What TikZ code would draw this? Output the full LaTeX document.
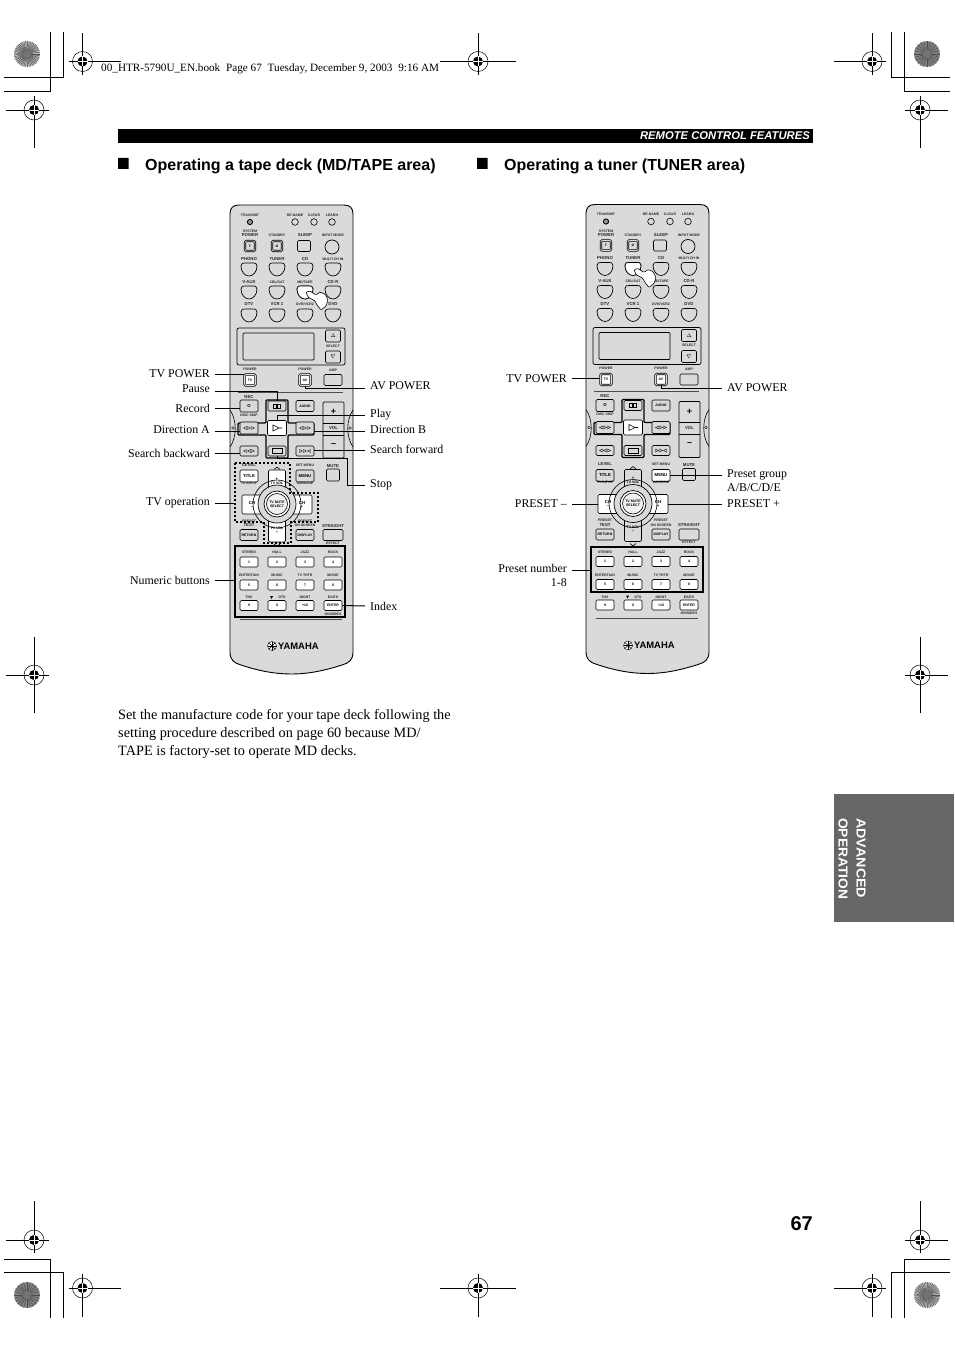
\documentclass[tikz,border=0pt]{standalone}
\usepackage{fontspec}
\setmainfont{Liberation Serif}
\setsansfont{Liberation Sans}
\usetikzlibrary{calc}
\definecolor{gris}{HTML}{DADADA}
\definecolor{onglet}{HTML}{666666}
\newcommand{\petit}{\sffamily\bfseries\fontsize{3.5}{4}\selectfont}
\newcommand{\moyen}{\sffamily\bfseries\fontsize{4.3}{5}\selectfont}
\tikzset{
    btn/.style={draw,line width=0.6pt,rounded corners=1.2pt,fill=gris,inner sep=0pt,font=\petit},
    btnw/.style={btn,fill=white},
    btntv/.style={btn,fill=white,double=gris,double distance=0.9pt,minimum width=11pt,minimum height=11pt},
    petitxt/.style={inner sep=0pt,font=\petit,text=black!85},
    moytxt/.style={inner sep=0pt,font=\moyen,text=black!85},
    legd/.style={anchor=west,inner ysep=0pt,inner xsep=5pt,font=\fontsize{11.9}{14}\selectfont},
    legg/.style={anchor=east,inner ysep=0pt,inner xsep=5pt,font=\fontsize{11.9}{14}\selectfont,align=right},
    lien/.style={line width=1pt},
    titre/.style={anchor=west,inner sep=0pt,font=\sffamily\bfseries\fontsize{16}{18}\selectfont},
    trait/.style={line width=0.7pt}
}
% Bouton arrondi en bas
\newcommand{\pastille}[3]{%
    \draw[line width=0.7pt,fill=#3,shift={(#1,#2)}] (-8,-3) .. controls (-8,-6) and (-6,-6) .. (-4,-6) -- (4,-6)
        .. controls (6,-6) and (8,-6) .. (8,-3) .. controls (8,3) and (4,7) .. (0,7)
        .. controls (-4,7) and (-8,3) .. (-8,-3) -- cycle;}
% Repere de coupe
\newcommand{\repere}[6]{%
    \draw[trait] (#1-#3,#2) -- (#1+#4,#2);
    \draw[trait] (#1,#2-#5) -- (#1,#2+#6);
    \draw[line width=0.5pt] (#1,#2) circle[radius=10];
    \fill (#1,#2) circle[radius=5];
    \draw[white,line width=0.5pt] (#1-5,#2) -- (#1+5,#2) (#1,#2-5) -- (#1,#2+5);}
% Mire ronde
\newcommand{\soleil}[4]{%
    \fill[#4] (#1,#2) circle[radius=13];
    \foreach \a in {0,#3,...,359} {
        \draw[line width=0.45pt,black!70] (#1,#2) -- ++(\a:13);}
    \fill[black!55] (#1,#2) circle[radius=4];}
% La main sur la touche
\newcommand{\mainpos}[2]{%
    \draw[line width=0.6pt,fill=white,rounded corners=1pt,shift={(#1,#2)}] (-12,-8) -- (-8,-9) -- (-2,-5) -- (2,-8) -- (7,-6)
        -- (10,0) -- (8,6) -- (3,10) -- (-1,5) -- (-3,1) -- (-10,-3) -- cycle;}
% La telecommande
\newcommand{\telecommande}{%
    \draw[line width=0.9pt,fill=gris] (230,214) .. controls (230,208) and (233,205) .. (239,205) -- (344,205)
        .. controls (350,205) and (353,208) .. (353,214) -- (353,652)
        .. controls (353,660) and (349,663) .. (342,665) .. controls (320,672) and (305,674) .. (291.5,674)
        .. controls (278,674) and (262,672) .. (241,665) .. controls (234,663) and (230,660) .. (230,652) -- cycle;
    % Arcs lateraux
    \draw[line width=0.6pt] (230,410) .. controls (237,420) and (237,437) .. (230,447);
    \draw[line width=0.6pt] (353,410) .. controls (346,420) and (346,437) .. (353,447);
    \draw[line width=0.4pt] (233,428) circle[radius=1.3] (350,428) circle[radius=1.3];
    % Voyants
    \draw[line width=0.9pt,fill=black!40] (250,222) circle[radius=2.6];
    \foreach \x in {295,314,332} {
        \draw[line width=0.6pt] (\x,222) circle[radius=3.3];}
    \draw[line width=0.7pt] (332,247) circle[radius=7];
    % Pastilles
    \foreach \y in {269,292,315} {
        \foreach \x in {249,277,305,333} {
            \pastille{\x}{\y}{gris}}}
    % Ecran
    \draw[line width=0.7pt,rounded corners=2pt] (237,328) rectangle (345,365);
    \draw[line width=0.7pt,rounded corners=1pt] (243,333) rectangle (314,360);
    % Croix centrale
    \draw[line width=1.2pt,rounded corners=1pt,fill=gris] (266,400) -- (288,400) -- (288,423) -- (314,423) -- (314,435) -- (288,435)
        -- (288,458) -- (266,458) -- (266,435) -- (238,435) -- (238,423) -- (266,423) -- cycle;
    % Volume
    \draw[line width=0.7pt,rounded corners=1pt] (323,402) rectangle (344,458);
    \draw[line width=0.7pt] (323,423) -- (344,423) (323,435) -- (344,435);
    \node[moytxt] (vol) at (333.5,428.5) {VOL};
    \node[inner sep=0pt,font=\sffamily\bfseries\fontsize{9}{9}\selectfont] (volp) at (333.5,412) {+};
    \node[inner sep=0pt,font=\sffamily\bfseries\fontsize{9}{9}\selectfont] (volm) at (333.5,445) {–};
    % Touches grises
    \foreach \nom/\x/\y/\w/\h/\t in {sleep/304/246/13/11/{},amp/333/380/18/11/{},
        selh/333/336/15/12/{$\Delta$},selb/333/357/15/12/{$\nabla$},rec/249/406/18/12/{\moyen O},
        pause/277/406/18/10/{},audio/305/406/18/11/{AUDIO},dira/249/428/18/12/{},dirb/305/428/18/12/{},
        stop/277/451/18/10/{},srb/249/451/18/10/{},srf/305/451/18/10/{},mute/333/475/13/12/{},
        return/249/535/18/11/{RETURN},display/305/535/18/11/{DISPLAY},straight/333/535/20/11/{}} {
        \node[btn,minimum width=\w,minimum height=\h] (\nom) at (\x,\y) {\t};}
    \node[btn,btntitle,minimum width=18,minimum height=12] (title) at (249,476) {\moyen TITLE};
    \node[btn,btnmenu,minimum width=18,minimum height=12] (menu) at (305,476) {\moyen MENU};
    \node[btnw,minimum width=19,minimum height=15] (play) at (277,428) {};
    % Touches d'alimentation
    \node[btn,minimum width=10,minimum height=10,double=gris,double distance=0.9pt] (syspower) at (250,246) {\moyen I};
    \node[btn,minimum width=10,minimum height=10,double=gris,double distance=0.9pt] (standby) at (277,246) {\moyen o};
    \node[btntv] (tv) at (250,380) {TV};
    \node[btntv] (av) at (305,380) {AV};
    % Pictogrammes
    \draw[line width=0.45pt] (273.5,404) rectangle (276.5,408) (277.5,404) rectangle (280.5,408);
    \draw[line width=0.55pt] (273,425) -- (279,428) -- (273,431) -- cycle (279,428) -- (282,428);
    \draw[line width=0.5pt] (272,448.5) rectangle (282,453.5);
    \foreach \x/\y/\s in {245/428/1,249/428/-1,253/428/-1,301/428/1,305/428/-1,309/428/-1,
        245/451/1,249/451/1,253/451/-1,301/451/-1,305/451/-1,309/451/1} {
        \draw[line width=0.4pt] (\x+1.5*\s,\y-1.5) -- (\x-1.5*\s,\y) -- (\x+1.5*\s,\y+1.5) -- cycle;}
    % Pave directionnel
    \node[btn,btnvol,minimum width=17,minimum height=22,align=center] (tvplus) at (277,481) {\moyen +\\TV VOL};
    \node[btn,btnvol,minimum width=17,minimum height=24,align=center] (tvmoins) at (277,530) {TV VOL\\\moyen --};
    \node[btnw,minimum width=20,minimum height=19,align=center] (chm) at (252,504.5) {\moyen CH\\\moyen --};
    \node[btnw,minimum width=20,minimum height=19,align=center] (chp) at (302,504.5) {\moyen CH\\\moyen +};
    \draw[line width=0.6pt] (277,504) circle[radius=24];
    \draw[line width=0.7pt,fill=gris] (277,504) circle[radius=19];
    \draw[line width=0.7pt,fill=white] (277,504) circle[radius=13];
    \node[circle,draw,line width=0.6pt,fill=gris!40,minimum size=21,inner sep=0pt,align=center,font=\petit] (select) at (277,504) {TV MUTE\\SELECT};
    \draw[line width=0.6pt] (274,469.5) -- (277,467) -- (280,469.5) (274,544) -- (277,546.5) -- (280,544);
    % Textes
    \foreach \x/\y/\t [count=\i] in {250/215/TRANSMIT,295/215/RE-NAME,314/215/CLEAR,332/215/LEARN,250/231.5/SYSTEM,
        277/235.5/STANDBY,333/235.5/{INPUT MODE},333/259/{MULTI CH IN},305/282/{MD/TAPE},277/282/{CBL/SAT},
        305/304.5/{DVR/VCR2},333/346/SELECT,250/369/POWER,305/369/POWER,333/370/AMP,249/415/{DISC SKIP},
        305/465/{SET MENU},249/483/{TV INPUT},305/483/{A/B/C/D/E},249/521/PRESET,305/521/PRESET,
        305/525.5/{ON SCREEN},333/543/EFFECT,333/614/{ON/SIDES}} {
        \node[petitxt] (txt\i) at (\x,\y) {\t};}
    \foreach \x/\y/\t [count=\i] in {250/235.5/POWER,305/235.5/SLEEP,249/259/PHONO,277/259/TUNER,305/259/CD,
        249/282/V-AUX,333/282/CD-R,249/304.5/DTV,277/304.5/{VCR 1},333/304.5/DVD,249/397/REC,249/465/LEVEL,
        333/466/MUTE,249/525.5/TEST,333/526/STRAIGHT} {
        \node[moytxt] (moy\i) at (\x,\y) {\t};}
    % Touches numeriques
    \foreach \x/\t/\u/\n/\m [count=\i] in {249/STEREO/ENTERTAIN/1/5,277/HALL/MUSIC/2/6,305/JAZZ/{TV THTR}/3/7,333/ROCK/MOVIE/4/8} {
        \node[petitxt] (haut\i) at (\x,552.5) {\t};
        \node[petitxt] (bas\i) at (\x,575.5) {\u};
        \node[btnw,minimum width=18,minimum height=10] (num\n) at (\x,562) {\n};
        \node[btnw,minimum width=18,minimum height=10] (num\m) at (\x,585) {\m};}
    \foreach \x/\t/\n/\nom [count=\i] in {249/THX/9/thx,305/NIGHT/+10/night,333/{EX/ES}/ENTER/enter} {
        \node[petitxt] (der\i) at (\x,597.5) {\t};
        \node[btnw,minimum width=18,minimum height=10] (\nom) at (\x,605.5) {\n};}
    \node[petitxt] (dertxt) at (282,597.5) {DTS};
    \node[btnw,minimum width=18,minimum height=10] (zero) at (277,605.5) {0};
    \fill (270,596) -- (273,596) -- (271.5,599) -- cycle;
    % Filets
    \draw[line width=0.8pt,black!70] (238,392) -- (343,392);
    \draw[line width=0.9pt,black!70] (240,619) -- (342,619);
    % Logo
    \draw[line width=0.4pt,fill=white] (272,646) circle[radius=4.5];
    \foreach \a in {0,45,...,315} {
        \draw[line width=0.5pt] (272,646) -- ++(\a:4.5);}
    \node[inner sep=0pt,anchor=west,font=\sffamily\bfseries\fontsize{9.4}{10}\selectfont] (logo) at (278,646) {YAMAHA};
}

\begin{document}
\begin{tikzpicture}[x=1pt,y=-1pt]
    \useasboundingbox (0,0) rectangle (954,1351);
    \fill[white] (0,0) rectangle (954,1351);
    % Traits de coupe
    \draw[trait] (63,32) -- (63,77) -- (4,77) (50,32) -- (50,91) -- (4,91);
    \draw[trait] (891,32) -- (891,77) -- (950,77) (904,32) -- (904,91) -- (950,91);
    \draw[trait] (4,1259) -- (50,1259) -- (50,1318) (4,1272) -- (63,1272) -- (63,1318);
    \draw[trait] (950,1259) -- (904,1259) -- (904,1318) (950,1272) -- (891,1272) -- (891,1318);
    \soleil{27}{54}{8}{black!25}
    \soleil{927}{54}{15}{black!50}
    \soleil{27}{1295}{15}{black!50}
    \soleil{927}{1295}{8}{black!25}
    \foreach \x/\y/\a/\b/\c/\d in {82.5/61.5/14/38/28/14,478/61.5/38/38/28/14,872/61.5/38/14/28/14,
        34/110/28/15/14/38,920/110/15/28/14/38,34/675/28/15/38/38,920/675/15/28/38/38,
        34/1240/28/15/39/13,920/1240/15/28/39/13,82.5/1288/14/38/14/29,478/1288/38/38/14/29,872/1288/38/14/14/29} {
        \repere{\x}{\y}{\a}{\b}{\c}{\d}}
    \node[anchor=west,inner sep=0pt,font=\fontsize{11.2}{13}\selectfont] (livre) at (101,68.5) {00\_HTR-5790U\_EN.book\hspace{3pt} Page 67\hspace{3pt} Tuesday, December 9, 2003\hspace{3pt} 9:16 AM};
    % Bandeau
    \fill (118,129) rectangle (813,143);
    \node[anchor=east,inner sep=0pt,text=white,font=\sffamily\bfseries\itshape\fontsize{11.25}{12}\selectfont] (bandeau) at (810,136) {REMOTE CONTROL FEATURES};
    % Titres
    \fill (118,158) rectangle (128.5,169) (477,158) rectangle (487.5,169);
    \node[titre] (titreg) at (145,166) {Operating a tape deck (MD/TAPE area)};
    \node[titre] (titred) at (504,166) {Operating a tuner (TUNER area)};
    % Telecommande de gauche
    \begin{scope}[name prefix=l,btntitle/.style={fill=white},btnmenu/.style={fill=gris},btnvol/.style={fill=white}]
        \telecommande
        \pastille{305}{292}{white}
        \mainpos{318}{300}
    \end{scope}
    \draw[line width=1.1pt,dash pattern=on 2pt off 2pt] (235,463) -- (290,463) -- (290,493) -- (318,493) -- (318,522) -- (291,522) -- (291,543)
        -- (264,543) -- (264,522) -- (235,522) -- cycle;
    \node[draw,line width=1.1pt,minimum width=110,minimum height=71,inner sep=0pt] (numg) at (290,581.5) {};
    % Telecommande de droite
    \begin{scope}[shift={(356,-0.5)},name prefix=r,btntitle/.style={fill=gris},btnmenu/.style={fill=white},btnvol/.style={fill=gris}]
        \telecommande
        \pastille{277}{269}{white}
        \mainpos{290}{278}
    \end{scope}
    \node[draw,line width=1.1pt,minimum width=112,minimum height=45,inner sep=0pt] (numd) at (647,569.5) {};
    % Legendes a gauche
    \node[legg] (legtvg) at (215,374) {TV POWER};
    \node[legg] (legpause) at (215,389) {Pause};
    \node[legg] (legrec) at (215,408) {Record};
    \node[legg] (legdira) at (215,430) {Direction A};
    \node[legg] (legsrb) at (215,453) {Search backward};
    \node[legg] (legtvop) at (215,503) {TV operation};
    \node[legg] (legnum) at (215,580) {Numeric buttons};
    \coordinate (pointil) at (235,503);
    \draw[lien] (legtvg.east) -- (ltv.west |- legtvg.east);
    \draw[lien] (legpause.east) ++(0,2.5) -| (lpause.north);
    \draw[lien] (legrec.east) -- (lrec.west |- legrec.east);
    \draw[lien] ($(legdira.east)+(0,1)$) -- ($(ldira.west |- legdira.east)+(0,1)$);
    \draw[lien] (legsrb.east) -- (lsrb.west |- legsrb.east);
    \draw[lien] (legtvop.east) -- (pointil);
    \draw[lien] (legnum.east) -- (numg.west |- legnum.east);
    % Legendes a droite
    \node[legd] (legavg) at (365,386) {AV POWER};
    \node[legd] (legplay) at (365,415) {Play};
    \node[legd] (legdirb) at (365,430) {Direction B};
    \node[legd] (legsrf) at (365,449) {Search forward};
    \node[legd] (legstop) at (365,484.5) {Stop};
    \node[legd] (legind) at (365,606) {Index};
    \coordinate (coude) at (347,485);
    \draw[lien] (lav.south) |- ($(legavg.west)+(0,2.5)$);
    \draw[lien] (lplay.north) |- (legplay.west);
    \draw[lien] ($(ldirb.east |- legdirb.west)+(0,1.5)$) -- ($(legdirb.west)+(0,1.5)$);
    \draw[lien] ($(lsrf.east |- legsrf.west)+(0,1)$) -- ($(legsrf.west)+(0,1)$);
    \draw[lien] (lstop.south) -- ++(0,2.5) -| (coude) -- (coude -| legstop.west);
    \draw[lien] (lenter.east) -- (legind.west);
    % Legendes de la telecommande de droite
    \node[legg] (legtvd) at (572,378.5) {TV POWER};
    \node[legg] (legprm) at (572,504) {PRESET --};
    \node[legg] (legprn) at (572,575.5) {Preset number\\1-8};
    \node[legd] (legavd) at (722,388) {AV POWER};
    \node[legd,align=left] (leggrp) at (722,480.5) {Preset group\\A/B/C/D/E};
    \node[legd] (legprp) at (722,504) {PRESET +};
    \draw[lien] (legtvd.east) -- (rtv.west |- legtvd.east);
    \draw[lien] (legprm.east) -- (rchm.west);
    \draw[lien] ($(legprn.east)+(0,-5.5)$) -- ($(numd.west |- legprn.east)+(0,-5.5)$);
    \draw[lien] (rav.south) |- (legavd.west);
    \draw[lien] (rmenu.east) -- (leggrp.west |- rmenu.east);
    \draw[lien] (rchp.east) -- (legprp.west);
    % Paragraphe
    \node[anchor=north west,inner sep=0pt,align=left,font=\fontsize{14.27}{18}\selectfont] (para) at (118,709) {Set the manufacture code for your tape deck following the\\setting procedure described on page 60 because MD/\\TAPE is factory-set to operate MD decks.};
    % Onglet et numero de page
    \fill[onglet] (834,794) rectangle (954,922);
    \node[rotate=-90,xscale=1.1,anchor=west,inner sep=0pt,text=white,font=\sffamily\bfseries\fontsize{13}{14}\selectfont] (adv) at (861,818) {ADVANCED};
    \node[rotate=-90,xscale=1.06,anchor=west,inner sep=0pt,text=white,font=\sffamily\bfseries\fontsize{13}{14}\selectfont] (ope) at (843,818) {OPERATION};
    \node[anchor=east,inner sep=0pt,font=\sffamily\bfseries\fontsize{20}{22}\selectfont] (page) at (813,1224) {67};
\end{tikzpicture}
\end{document}
